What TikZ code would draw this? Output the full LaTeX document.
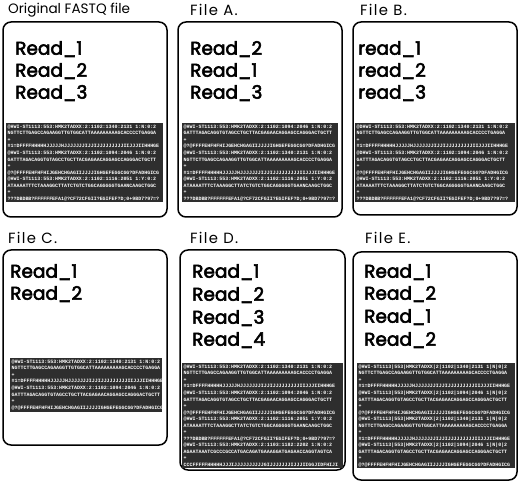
\documentclass[tikz,border=0pt]{standalone}
\usepackage{fontspec}
\setmainfont{Poppins}
\newfontfamily\readfont{Poppins}[FakeBold=3]
\newfontfamily\filefont{Poppins}[LetterSpace=9]
\newfontfamily\seqfont{Liberation Mono}
\newcommand\rdone{@HWI-ST1113:553:HMK2TADXX:2:1102:1340:2131 1:N:0:2\\NGTTCTTGAGCCAGAAGGTTGTGGCATTAAAAAAAAAGCACCCCTGAGGA\\+\\\#1=DFFFFHHHHHJJJJJHJJJJJJJIJJIJJJJJJJJJIIJJJIIHHHGE}
\newcommand\rdtwo{@HWI-ST1113:553:HMK2TADXX:2:1102:1094:2046 1:N:0:2\\GATTTAGACAGGTGTAGCCTGCTTACGAGAACAGGAGCCAGGGACTGCTT\\+\\@?@FFFFEHFHFHIJGEHCHGAGIIJJJJIGHGEFEGGCGG?DFADHGICG}
\newcommand\rdthree{@HWI-ST1113:553:HMK2TADXX:2:1102:1116:2051 1:Y:0:2\\ATAAAATTTCTAAAGGCTTATCTGTCTGGCAGGGGGTGAANCAAGCTGGC\\+\\???DBDBB?FFFFFFEFA1@?CF72CFGII?EGIFEF?D;0+9BD7?97=?}
\newcommand\rdfour{@HWI-ST1113:553:HMK2TADXX:2:1103:1182:2202 1:N:0:2\\AGAATAAATCGCCCGCCATGACAGATGAAAGGATGAGAACCAGGTAGTCA\\+\\CCCFFFFFHHHHHJJJIJJJJJJJJJJGIJJJJJJJIJJJIIGGJIDFHIJI}
\newcommand\rdoneB{@DHWI-ST1113:553:HMK2TADXX:2:1102:1340:2131 1:N:0:2\\NGTTCTTGAGCCAGAAGGTTGTGGCATTAAAAAAAAAGCACCCCTGAGGA\\+\\\#1=DFFFFHHHHHJJJJJHJJJJJJJIJJIJJJJJJJJJIIJJJIIHHHGE}
\newcommand\rdtwoB{@DHWI-ST1113:553:HMK2TADXX:2:1102:1094:2046 1:N:0:2\\GATTTAGACAGGTGTAGCCTGCTTACGAGAACAGGAGCCAGGGACTGCTT\\+\\@?@FFFFEHFHFHIJGEHCHGAGIIJJJJIGHGEFEGGCGG?DFADHGICG}
\newcommand\rdoneE{@HWI-ST1113|553|HMK2TADXX|2|1102|1340|2131 1|N|0|2\\NGTTCTTGAGCCAGAAGGTTGTGGCATTAAAAAAAAAGCACCCCTGAGGA\\+\\\#1=DFFFFHHHHHJJJJJHJJJJJJJIJJIJJJJJJJJJIIJJJIIHHHGE}
\newcommand\rdtwoE{@HWI-ST1113|553|HMK2TADXX|2|1102|1094|2046 1|N|0|2\\GATTTAGACAGGTGTAGCCTGCTTACGAGAACAGGAGCCAGGGACTGCTT\\+\\@?@FFFFEHFHFHIJGEHCHGAGIIJJJJIGHGEFEGGCGG?DFADHGICG}
\tikzset{
  filebox/.style={draw=black, line width=1.5pt, rounded corners=8pt, fill=white},
  title/.style={anchor=west, inner sep=0pt, font=\fontsize{13.6}{16}\selectfont},
  ftitle/.style={anchor=west, inner sep=0pt, font=\filefont\fontsize{14.8}{16}\selectfont},
  readtxt/.style={anchor=west, inner sep=0pt, font=\readfont\fontsize{18.5}{21}\selectfont},
  seqblock/.style={fill=black!82},
  seqtxt/.style={anchor=north west, inner sep=0pt, text=white, align=left,
    font=\seqfont\bfseries\fontsize{4.95}{6.55}\selectfont}
}
\begin{document}
\begin{tikzpicture}[x=1pt,y=-1pt]
\useasboundingbox (0,0) rectangle (520,484);
% boxes
\draw[filebox] (3,22) rectangle (167,217);
\draw[filebox] (178,22) rectangle (342,217);
\draw[filebox] (353,22) rectangle (517,215);
\draw[filebox] (3,250) rectangle (167,445);
\draw[filebox] (180,250) rectangle (345,470);
\draw[filebox] (353,252) rectangle (517,480);
% titles
\node[title] (t0) at (8,10) {Original FASTQ file};
\node[ftitle] (tA) at (190,10) {File A.};
\node[ftitle] (tB) at (360,10) {File B.};
\node[ftitle] (tC) at (8,238) {File C.};
\node[ftitle] (tD) at (190,238) {File D.};
\node[ftitle] (tE) at (365,238) {File E.};
% reads
\node[readtxt] (o1) at (15,49) {Read\_1};
\node[readtxt] (o2) at (15,71) {Read\_2};
\node[readtxt] (o3) at (15,93) {Read\_3};
\node[readtxt] (a1) at (190,49) {Read\_2};
\node[readtxt] (a2) at (190,71) {Read\_1};
\node[readtxt] (a3) at (190,93) {Read\_3};
\node[readtxt] (b1) at (358,49) {read\_1};
\node[readtxt] (b2) at (358,71) {read\_2};
\node[readtxt] (b3) at (358,93) {read\_3};
\node[readtxt] (c1) at (10,272) {Read\_1};
\node[readtxt] (c2) at (10,294) {Read\_2};
\node[readtxt] (d1) at (192,272) {Read\_1};
\node[readtxt] (d2) at (192,295) {Read\_2};
\node[readtxt] (d3) at (192,318) {Read\_3};
\node[readtxt] (d4) at (192,340) {Read\_4};
\node[readtxt] (e1) at (364,272) {Read\_1};
\node[readtxt] (e2) at (364,294) {Read\_2};
\node[readtxt] (e3) at (364,317) {Read\_1};
\node[readtxt] (e4) at (364,340) {Read\_2};
% sequence blocks
\fill[seqblock] (6,123) rectangle (163,202);
\node[seqtxt] (s0) at (7.5,124.5) {\rdone\\\rdtwo\\\rdthree};
\fill[seqblock] (182,123) rectangle (338,202);
\node[seqtxt] (sA) at (183.5,124.5) {\rdtwo\\\rdone\\\rdthree};
\fill[seqblock] (355,123) rectangle (515,202);
\node[seqtxt] (sB) at (356.5,124.5) {\rdoneB\\\rdtwoB\\\rdthree};
\fill[seqblock] (10,358) rectangle (162,412);
\node[seqtxt] (sC) at (11.5,359.5) {\rdone\\\rdtwo};
\fill[seqblock] (182,363) rectangle (343,468);
\node[seqtxt] (sD) at (183.5,364.5) {\rdone\\\rdtwo\\\rdthree\\\rdfour};
\fill[seqblock] (357,363) rectangle (515,468);
\node[seqtxt] (sE) at (358.5,364.5) {\rdoneE\\\rdtwoE\\\rdoneE\\\rdtwoE};
\end{tikzpicture}
\end{document}
